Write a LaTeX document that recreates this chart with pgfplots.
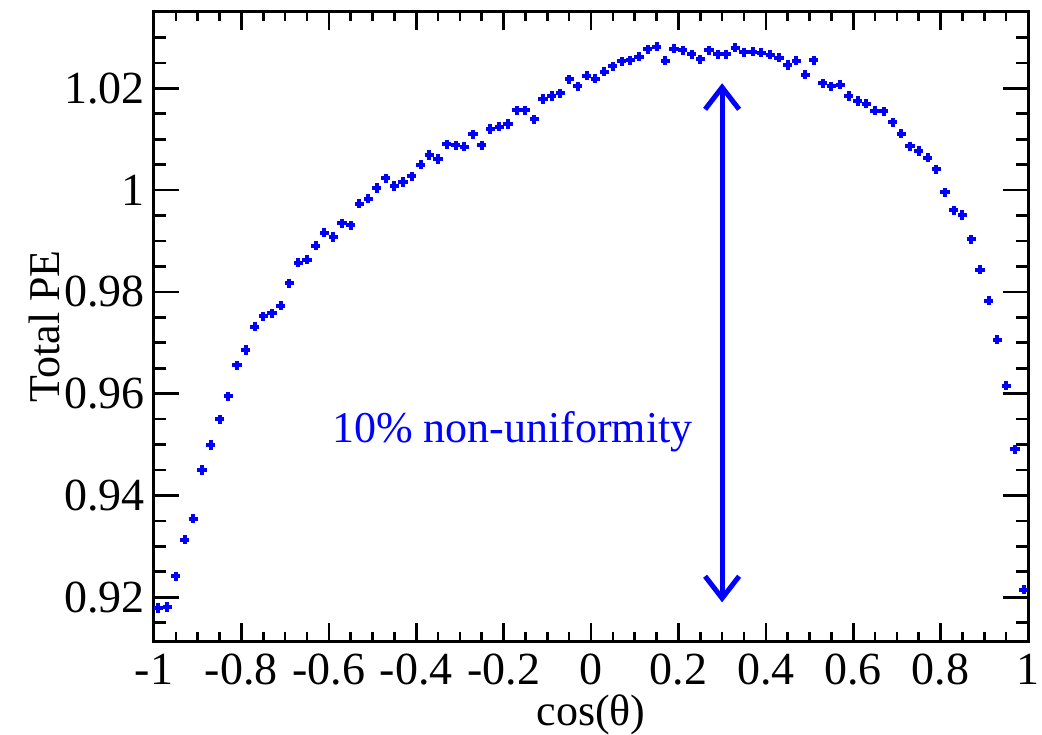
\documentclass[border=0pt]{standalone}
\usepackage{fontspec}
\setmainfont{Liberation Serif}
\usepackage{pgfplots}
\pgfplotsset{compat=1.18}
\usetikzlibrary{arrows.meta}
\definecolor{rblue}{RGB}{0,0,255}
\pgfplotstableread{
x y
-0.99 0.9179
-0.97 0.9181
-0.95 0.9241
-0.93 0.9313
-0.91 0.9354
-0.89 0.9450
-0.87 0.9499
-0.85 0.9550
-0.83 0.9595
-0.81 0.9656
-0.79 0.9686
-0.77 0.9732
-0.75 0.9752
-0.73 0.9758
-0.71 0.9773
-0.69 0.9817
-0.67 0.9857
-0.65 0.9863
-0.63 0.9891
-0.61 0.9916
-0.59 0.9908
-0.57 0.9935
-0.55 0.9931
-0.53 0.9973
-0.51 0.9983
-0.49 1.0004
-0.47 1.0023
-0.45 1.0008
-0.43 1.0016
-0.41 1.0027
-0.39 1.0050
-0.37 1.0069
-0.35 1.0061
-0.33 1.0090
-0.31 1.0088
-0.29 1.0085
-0.27 1.0110
-0.25 1.0088
-0.23 1.0120
-0.21 1.0125
-0.19 1.0130
-0.17 1.0157
-0.15 1.0157
-0.13 1.0139
-0.11 1.0179
-0.09 1.0185
-0.07 1.0190
-0.05 1.0218
-0.03 1.0204
-0.01 1.0225
0.01 1.0219
0.03 1.0233
0.05 1.0243
0.07 1.0253
0.09 1.0255
0.11 1.0262
0.13 1.0277
0.15 1.0282
0.17 1.0254
0.19 1.0278
0.21 1.0275
0.23 1.0267
0.25 1.0257
0.27 1.0275
0.29 1.0267
0.31 1.0267
0.33 1.0280
0.35 1.0271
0.37 1.0272
0.39 1.0270
0.41 1.0266
0.43 1.0260
0.45 1.0246
0.47 1.0254
0.49 1.0227
0.51 1.0255
0.53 1.0210
0.55 1.0204
0.57 1.0207
0.59 1.0185
0.61 1.0175
0.63 1.0170
0.65 1.0156
0.67 1.0155
0.69 1.0133
0.71 1.0111
0.73 1.0086
0.75 1.0077
0.77 1.0064
0.79 1.0041
0.81 0.9996
0.83 0.9960
0.85 0.9951
0.87 0.9903
0.89 0.9844
0.91 0.9783
0.93 0.9706
0.95 0.9616
0.97 0.9491
0.99 0.9215
}\datatable
\begin{document}
\begin{tikzpicture}
\begin{axis}[
  at={(0pt,0pt)}, anchor=south west,
  scale only axis, width=437pt, height=314.5pt,
  xmin=-1, xmax=1, ymin=0.9114, ymax=1.035,
  axis line style={line width=1.5pt},
  tick style={line width=1.3pt, black},
  tick align=inside,
  xtick={-1,-0.8,-0.6,-0.4,-0.2,0,0.2,0.4,0.6,0.8,1},
  xticklabels={-1,-0.8,-0.6,-0.4,-0.2,0,0.2,0.4,0.6,0.8,1},
  minor xtick={-0.95,-0.9,-0.85,-0.75,-0.7,-0.65,-0.55,-0.5,-0.45,-0.35,-0.3,-0.25,-0.15,-0.1,-0.05,0.05,0.1,0.15,0.25,0.3,0.35,0.45,0.5,0.55,0.65,0.7,0.75,0.85,0.9,0.95},
  ytick={0.92,0.94,0.96,0.98,1,1.02},
  yticklabels={0.92,0.94,0.96,0.98,1,1.02},
  minor ytick={0.915,0.925,0.93,0.935,0.945,0.95,0.955,0.965,0.97,0.975,0.985,0.99,0.995,1.005,1.01,1.015,1.025,1.03},
  xtick style={/pgfplots/major tick length=9pt, /pgfplots/minor tick length=4.5pt},
  ytick style={/pgfplots/major tick length=12.5pt, /pgfplots/minor tick length=6pt},
  ticklabel style={font=\fontsize{23}{26}\selectfont},
  xticklabel style={yshift=-3pt},
  yticklabel style={xshift=-1pt},
  xlabel={cos(θ)},
  ylabel={Total PE},
  label style={font=\fontsize{22}{25}\selectfont},
  xlabel style={at={(axis description cs:0.5,0)}, anchor=center, yshift=-37pt},
  ylabel style={at={(axis description cs:0,0.5)}, anchor=center, rotate=0, xshift=0pt, yshift=55pt},
  clip=false,
]
\addplot[only marks, mark=+, color=rblue, mark size=2.3pt, mark options={line width=2pt}] table[x=x,y=y] {\datatable};
\draw[rblue, line width=2.5pt, {Straight Barb[length=11pt,width=17pt]}-{Straight Barb[length=11pt,width=17pt]}] (axis cs:0.3,0.919) -- (axis cs:0.3,1.021);
\node[rblue, font=\fontsize{22}{25}\selectfont, anchor=center] at (axis cs:-0.18,0.9525) {10\% non-uniformity};
\end{axis}
\pgfresetboundingbox
\useasboundingbox (-77pt,-46.5pt) rectangle (444pt,320.5pt);
\end{tikzpicture}
\end{document}
